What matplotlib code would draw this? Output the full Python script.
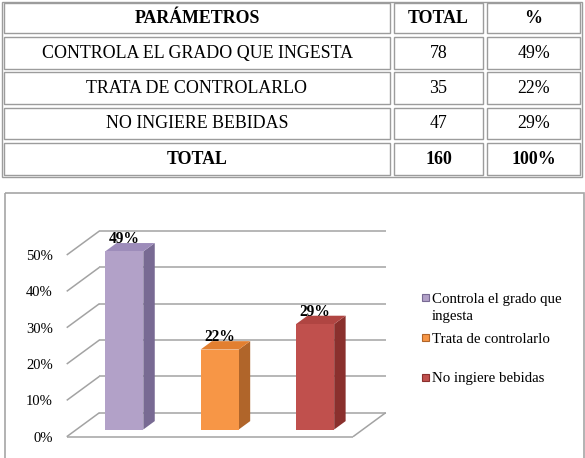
import matplotlib
matplotlib.use("Agg")
import matplotlib.pyplot as plt
from matplotlib.patches import Polygon, Rectangle
from matplotlib.transforms import Affine2D

# ---------------- data ----------------
table_header = ["PARÁMETROS", "TOTAL", "%"]
parametros = ["CONTROLA EL GRADO QUE INGESTA", "TRATA DE CONTROLARLO", "NO INGIERE BEBIDAS"]
totales = [78, 35, 47]
porcentajes_tabla = ["49%", "22%", "29%"]
total_row = ["TOTAL", "160", "100%"]

series_labels = ["Controla el grado que\ningesta", "Trata de controlarlo", "No ingiere bebidas"]
values = [0.49, 0.22, 0.29]
value_labels = ["49%", "22%", "29%"]
ytick_values = [0.0, 0.1, 0.2, 0.3, 0.4, 0.5]
ytick_labels = ["0%", "10%", "20%", "30%", "40%", "50%"]

front_colors = ["#B2A1C8", "#F79646", "#C0504D"]
top_colors = ["#9D8CBA", "#E27F30", "#B04542"]
side_colors = ["#786A93", "#B0652A", "#8A302D"]

# ---------------- figure ----------------
W, H = 585, 458
DPI = 100
plt.rcParams["font.family"] = ["Liberation Serif", "DejaVu Serif"]
fig = plt.figure(figsize=(W / DPI, H / DPI), dpi=DPI)
fig.patch.set_facecolor("white")

# overlay axes in pixel coordinates for table / frame / legend
ax0 = fig.add_axes([0, 0, 1, 1])
ax0.set_xlim(0, W)
ax0.set_ylim(H, 0)
ax0.axis("off")

grey = "#9c9c9c"

# ---- table ----
col_x = [2, 392, 485, 582]
row_y = [1.5, 35, 70.5, 106, 141, 177]
ax0.add_patch(Rectangle((col_x[0], row_y[0]), col_x[-1] - col_x[0], row_y[-1] - row_y[0],
                        fill=False, ec=grey, lw=1.0))
inset = 1.6
for r in range(len(row_y) - 1):
    for c in range(len(col_x) - 1):
        x0, x1 = col_x[c] + inset, col_x[c + 1] - inset
        y0, y1 = row_y[r] + inset, row_y[r + 1] - inset
        ax0.add_patch(Rectangle((x0, y0), x1 - x0, y1 - y0, fill=False, ec=grey, lw=1.0))

rows = [table_header]
for p, t, pc in zip(parametros, totales, porcentajes_tabla):
    rows.append([p, str(t), pc])
rows.append(total_row)
for r, row in enumerate(rows):
    bold = r == 0 or r == len(rows) - 1
    yc = (row_y[r] + row_y[r + 1]) / 2 + 0.5
    for c, txt in enumerate(row):
        xc = (col_x[c] + col_x[c + 1]) / 2
        ax0.text(xc, yc, txt, ha="center", va="center", fontsize=12.9,
                 fontweight="bold" if bold else "normal", color="black")

# ---- chart frame ----
ax0.add_patch(Rectangle((4.5, 192.5), 579, 270, fill=False, ec="#a6a6a6", lw=1.2))

# ---- legend (manual, Excel-like) ----
leg_y = [297.7, 337.7, 377.3]
line_step = 17.3
for lab, col, edge, yc in zip(series_labels, front_colors, side_colors, leg_y):
    ax0.add_patch(Rectangle((422, yc - 3.5), 7, 7, fc=col, ec=edge, lw=0.8))
    for k, line in enumerate(lab.split("\n")):
        ax0.text(432, yc + 5.0 + k * line_step, line, ha="left", va="baseline",
                 fontsize=10.7, color="black")

# ---------------- pseudo 3D bar chart ----------------
ax_left, ax_right = 66.7, 353.0
ax_bottom, ax_top = 436.7, 255.0
ax = fig.add_axes([ax_left / W, (H - ax_bottom) / H, (ax_right - ax_left) / W,
                   (ax_bottom - ax_top) / H])
ax.set_facecolor("none")
ncat = len(values)
ax.set_xlim(-0.5, ncat - 0.5)
ax.set_ylim(0, 0.5)
for s in ax.spines.values():
    s.set_visible(False)
ax.set_xticks([])
ax.set_yticks(ytick_values)
ax.set_yticklabels(ytick_labels, fontsize=10.5)
ax.tick_params(axis="y", length=0, pad=10)

DX, DY = 32.7, 24.0  # full depth offset in display pixels


def tr(z):
    return ax.transData + Affine2D().translate(z * DX, z * DY)


x0, x1 = -0.5, ncat - 0.5
gl = dict(color="#a3a3a3", lw=1.1, solid_capstyle="butt", clip_on=False, zorder=1)

# floor front edge
ax.plot([x0, x1], [0, 0], transform=tr(0), **gl)
# right diagonal edge of floor
pr = ax.transData.transform((x1, 0))
ax.plot([pr[0], pr[0] + DX], [pr[1], pr[1] + DY], transform=None, **gl)

# gridlines on back wall (z=1) and left wall (x=x0)
for yv in ytick_values:
    ax.plot([x0, x1], [yv, yv], transform=tr(1), **gl)
    p = ax.transData.transform((x0, yv))
    ax.plot([p[0], p[0] + DX], [p[1], p[1] + DY], transform=None, **gl)

# bars
z0, z1 = 0.30, 0.65
hw = 0.2
for i, (v, fc, tc, sc) in enumerate(zip(values, front_colors, top_colors, side_colors)):
    pts_side = [tr(zz_).transform((i + hw, yy)) for (yy, zz_) in [(0, z0), (0, z1), (v, z1), (v, z0)]]
    ax.add_patch(Polygon(pts_side, closed=True, fc=sc, ec="none", transform=None,
                         clip_on=False, zorder=3))
    pts_top = [tr(z0).transform((i - hw, v)), tr(z0).transform((i + hw, v)),
               tr(z1).transform((i + hw, v)), tr(z1).transform((i - hw, v))]
    ax.add_patch(Polygon(pts_top, closed=True, fc=tc, ec="none", transform=None,
                         clip_on=False, zorder=3))
    ax.add_patch(Rectangle((i - hw, 0), 2 * hw, v, fc=fc, ec="none", transform=tr(z0),
                           clip_on=False, zorder=4))
    ax.annotate(value_labels[i], xy=(i, v), xycoords=tr(z0), xytext=(0, 5.8),
                textcoords="offset points", ha="center", va="baseline",
                fontsize=11.2, fontweight="bold", zorder=5, annotation_clip=False)

fig.savefig("out.png", dpi=DPI, facecolor="white")
